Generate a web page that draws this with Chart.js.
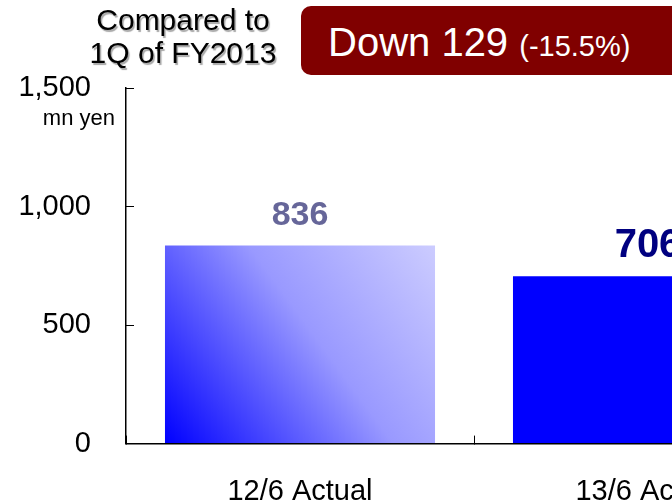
<!DOCTYPE html>
<html>
<head>
<meta charset="utf-8">
<script src="https://cdn.jsdelivr.net/npm/chart.js@4.4.0/dist/chart.umd.min.js"></script>
<style>
  html, body { margin: 0; padding: 0; width: 672px; height: 504px; overflow: hidden; background: #fff; }
  body { position: relative; font-family: "Liberation Sans", Arial, sans-serif; }
  #chart { position: absolute; left: 0; top: 0; }
  .compare { position: absolute; left: 60px; width: 246px; top: 3px; text-align: center; font-size: 30px; line-height: 33px; color: #000; text-shadow: 1.5px 1.5px 1px rgba(0,0,0,0.35); }
  .badge { position: absolute; left: 301px; top: 6px; width: 420px; height: 69px; border-radius: 10px; background: #800000; color: #fff; }
  .badge span.main { position: absolute; left: 27px; top: 14px; font-size: 40px; line-height: 44px; white-space: nowrap; }
  .badge span.main small { font-size: 29px; }
  .unit { position: absolute; right: calc(672px - 115px); top: 105px; font-size: 22px; line-height: 26px; white-space: nowrap; }
</style>
</head>
<body>
<canvas id="chart" width="860" height="504"></canvas>
<div class="compare">Compared to<br>1Q of FY2013</div>
<div class="badge"><span class="main">Down 129 <small>(-15.5%)</small></span></div>
<div class="unit">mn yen</div>
<script>
const categories = ["12/6 Actual", "13/6 Actual"];
const values = [836, 706];
const yTickLabels = ["0", "500", "1,000", "1,500"];
const valueColors = ["#666699", "#000080"];
const valueFontSizes = [34, 40];

const ctx = document.getElementById("chart").getContext("2d");

// first bar gets a diagonal gradient, second stays flat blue
const gradientBars = {
  id: "gradientBars",
  beforeDatasetsDraw(chart) {
    const bar = chart.getDatasetMeta(0).data[0];
    const left = bar.x - bar.width / 2;
    const right = bar.x + bar.width / 2;
    const g = chart.ctx.createLinearGradient(left, bar.base, right, bar.y);
    g.addColorStop(0, "#0000ff");
    g.addColorStop(0.55, "#9999ff");
    g.addColorStop(1, "#ccccff");
    bar.options.backgroundColor = g;
  },
};

const valueLabels = {
  id: "valueLabels",
  afterDatasetsDraw(chart) {
    const c = chart.ctx;
    chart.getDatasetMeta(0).data.forEach((bar, i) => {
      c.save();
      c.font = "bold " + valueFontSizes[i] + "px 'Liberation Sans', Arial, sans-serif";
      c.fillStyle = valueColors[i];
      c.textAlign = "center";
      c.textBaseline = "middle";
      c.fillText(String(values[i]), bar.x, bar.y - 30);
      c.restore();
    });
  },
};

new Chart(ctx, {
  type: "bar",
  data: {
    labels: categories,
    datasets: [
      {
        data: values,
        backgroundColor: ["#9999ff", "#0000ff"],
        borderWidth: 0,
        categoryPercentage: 1,
        barPercentage: 0.776,
      },
    ],
  },
  options: {
    responsive: false,
    animation: false,
    layout: { padding: { top: 88, right: 38, left: 0, bottom: 0 } },
    plugins: { legend: { display: false }, tooltip: { enabled: false } },
    scales: {
      x: {
        offset: true,
        grid: { offset: true, drawOnChartArea: false, drawTicks: true, tickLength: -8, color: "#000", lineWidth: 1 },
        border: { display: true, color: "#000", width: 1.5 },
        ticks: { color: "#000", font: { size: 29, family: "'Liberation Sans', Arial, sans-serif" }, padding: 39, maxRotation: 0 },
        afterFit(scale) { scale.height = 58; },
      },
      y: {
        min: 0,
        max: 1500,
        grid: { drawOnChartArea: false, drawTicks: true, tickLength: -8, color: "#000", lineWidth: 1 },
        border: { display: true, color: "#000", width: 1.5 },
        ticks: {
          stepSize: 500,
          color: "#000",
          font: { size: 29, family: "'Liberation Sans', Arial, sans-serif" },
          padding: 43,
          callback(value, index) { return yTickLabels[index]; },
        },
        afterFit(scale) { scale.width = 126; },
      },
    },
  },
  plugins: [gradientBars, valueLabels],
});
</script>
</body>
</html>
